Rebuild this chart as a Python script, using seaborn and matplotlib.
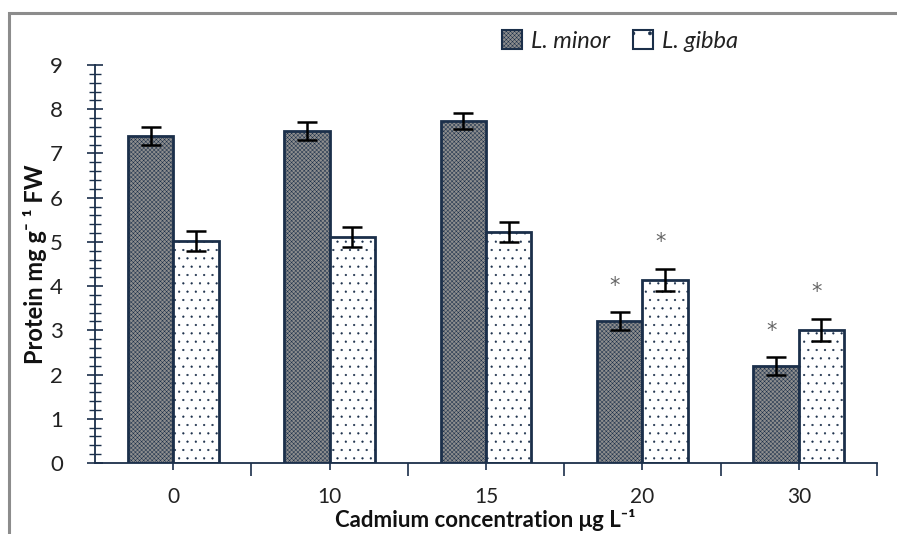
import matplotlib
matplotlib.use("Agg")
import matplotlib.pyplot as plt
from matplotlib.patches import Patch, Rectangle
from matplotlib.ticker import MultipleLocator
import seaborn as sns
import pandas as pd
import numpy as np

# ---- data ----
concentrations = ["0", "10", "15", "20", "30"]
species = ["L. minor", "L. gibba"]
minor_vals = [7.40, 7.51, 7.74, 3.21, 2.19]
gibba_vals = [5.02, 5.11, 5.23, 4.14, 3.01]
minor_err = [0.20, 0.20, 0.18, 0.20, 0.20]
gibba_err = [0.23, 0.23, 0.23, 0.25, 0.25]
minor_sig = [False, False, False, True, True]
gibba_sig = [False, False, False, True, True]

df = pd.DataFrame({
    "conc": concentrations * 2,
    "species": [species[0]] * 5 + [species[1]] * 5,
    "protein": minor_vals + gibba_vals,
})

sns.set_theme(style="white")
plt.rcParams["font.family"] = ["Lato", "DejaVu Sans"]
plt.rcParams["hatch.linewidth"] = 0.35

edge = "#1b2f4a"
minor_fc = "#8e8e8e"
fig = plt.figure(figsize=(8.97, 5.34), dpi=100)
ax = fig.add_axes([95 / 897, 71 / 534, (877 - 95) / 897, (463 - 65) / 534])

sns.barplot(data=df, x="conc", y="protein", hue="species", order=concentrations,
            hue_order=species, palette=[minor_fc, "white"], width=0.58,
            errorbar=None, ax=ax, legend=False, saturation=1)

styles = {0: dict(fc=minor_fc, hatch="xxxxxxxx"), 1: dict(fc="white", hatch="..")}
n = len(concentrations)
for i, p in enumerate(ax.patches[: 2 * n]):
    s = styles[i // n]
    p.set_facecolor(s["fc"])
    p.set_hatch(s["hatch"])
    p.set_edgecolor(edge)
    p.set_linewidth(2)

# error bars and asterisks
for k, (vals, errs, sig) in enumerate([(minor_vals, minor_err, minor_sig),
                                       (gibba_vals, gibba_err, gibba_sig)]):
    patches = ax.patches[k * n:(k + 1) * n]
    xs = [p.get_x() + p.get_width() / 2 for p in patches]
    ax.errorbar(xs, vals, yerr=errs, fmt="none", ecolor="black",
                elinewidth=1.8, capsize=7, capthick=1.8, zorder=5)
    for x, v, e, s in zip(xs, vals, errs, sig):
        if s:
            ax.text(x - 0.03, v + e + 0.6, "*", ha="center", va="center",
                    fontsize=15, color="#666666", family="DejaVu Sans")

ax.set_xlim(-0.5, 4.5)
ax.set_ylim(0, 9)
ax.yaxis.set_major_locator(MultipleLocator(1))
ax.yaxis.set_minor_locator(MultipleLocator(0.2))
ax.tick_params(axis="y", which="major", direction="inout", length=12, width=1.2,
               color=edge, labelsize=16, pad=17, left=True, labelcolor="#222222")
ax.tick_params(axis="y", which="minor", direction="inout", length=8, width=1.0,
               color=edge, left=True)

# x ticks: centers short, boundaries longer
ax.set_xticks(range(n))
ax.set_xticklabels(concentrations)
ax.set_xticks(np.arange(-0.5, n, 1.0)[1:], minor=True)
ax.tick_params(axis="x", which="major", direction="out", length=5, width=1.2,
               color=edge, labelsize=15, pad=12, bottom=True, labelcolor="#222222")
ax.tick_params(axis="x", which="minor", direction="out", length=9, width=1.2,
               color=edge, bottom=True)

for sp in ["top", "right"]:
    ax.spines[sp].set_visible(False)
for sp in ["left", "bottom"]:
    ax.spines[sp].set_color(edge)
    ax.spines[sp].set_linewidth(1.3)

ax.set_ylabel("Protein mg g\u207b \u00b9 FW", fontsize=17, fontweight="bold",
              labelpad=2, color="#111111")
ax.set_xlabel("Cadmium concentration \u03bcg L\u207b\u00b9", fontsize=16,
              fontweight="bold", color="#111111", va="center")
ax.xaxis.set_label_coords((485 - 95) / (877 - 95), (463 - 520) / 398)

handles = [Patch(facecolor=minor_fc, hatch="xxxxxxxx", edgecolor=edge, linewidth=1.5),
           Patch(facecolor="white", hatch=".", edgecolor=edge, linewidth=1.5)]
leg = fig.legend(handles, species, loc="center", bbox_to_anchor=(620 / 897, 1 - 41 / 534),
                 ncol=2, frameon=False, handlelength=0.85, handleheight=0.85,
                 handletextpad=0.35, columnspacing=1.0,
                 prop={"style": "italic", "size": 17})
for t in leg.get_texts():
    t.set_color("#222222")

# outer gray frame
fig.patches.append(Rectangle((9 / 897, -0.2), 1.2, 1.2 - 13 / 534,
                             transform=fig.transFigure, fill=False,
                             edgecolor="#8c8c8c", linewidth=2.2))

fig.savefig("out.png", dpi=100)
